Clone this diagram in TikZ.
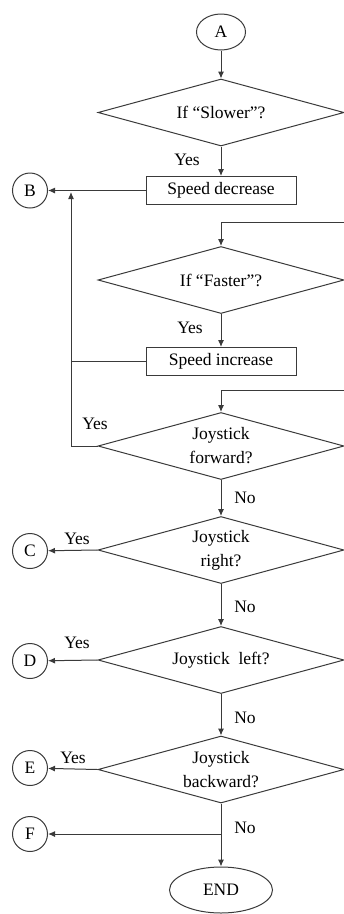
\documentclass[tikz,border=0pt]{standalone}
\usepackage{fontspec}
\setmainfont{Liberation Serif}
\usepackage{xcolor}
\usetikzlibrary{arrows.meta}
\usetikzlibrary{shapes.geometric, positioning}

\definecolor{lineGray}{HTML}{3A3A3A}

\tikzset{
	flow/.style={draw=lineGray, line width=1pt, -{Latex[length=7pt,width=6pt]}},
	link/.style={draw=lineGray, line width=1pt},
	decision/.style={diamond, draw=lineGray, line width=1pt, aspect=3.7, inner sep=0pt, minimum width=246pt, minimum height=67pt, align=center},
	action/.style={rectangle, draw=lineGray, line width=1pt, minimum width=150pt, minimum height=28pt, inner sep=0pt},
	connector/.style={circle, draw=lineGray, line width=1pt, minimum size=35pt, inner sep=0pt},
	terminal/.style={ellipse, draw=lineGray, line width=1pt, inner sep=0pt},
	answer/.style={inner sep=0pt}
}

\begin{document}
\begin{tikzpicture}[x=1pt, y=-1pt, font=\fontsize{17.5}{24}\selectfont]
		\useasboundingbox (0,0) rectangle (344,914);
		\node[terminal, minimum width=49pt, minimum height=36pt] (A) at (221,32) {A};
		\node[decision] (slower) at (221,112.5) {If “Slower”?};
		\node[action] (dec) at (221,190.5) {Speed decrease};
		\node[connector] (B) at (30,190.5) {B};
		\node[decision] (faster) at (221,280) {If “Faster”?};
		\node[action] (inc) at (221,361.5) {Speed increase};
		\node[decision] (fwd) at (221,446) {Joystick\\forward?};
		\node[decision] (right) at (221,550) {Joystick\\right?};
		\node[connector] (C) at (30,551) {C};
		\node[decision] (left) at (221,660) {Joystick~~left?};
		\node[connector] (D) at (30,661) {D};
		\node[decision] (back) at (221,769.5) {Joystick\\backward?};
		\node[connector] (E) at (30,768) {E};
		\node[connector] (F) at (30,834) {F};
		\node[terminal, minimum width=103pt, minimum height=46pt] (end) at (221,890) {END};

		\coordinate (r1) at (344,222);
		\coordinate (r2) at (344,390);
		\coordinate (bj) at (71,192);
		\coordinate (fj) at (221,834);

		\draw[flow] (A) -- (slower);
		\draw[flow] (slower) -- (dec);
		\draw[flow] (dec) -- (B);
		\draw[flow] (r1) -| (faster.north);
		\draw[flow] (faster) -- (inc);
		\draw[link] (inc.west) -- (inc.west -| bj);
		\draw[flow] (r2) -| (fwd.north);
		\draw[flow] (fwd.west) -| (bj);
		\draw[flow] (fwd) -- (right);
		\draw[flow] (right.west) -- (C);
		\draw[flow] (right) -- (left);
		\draw[flow] (left.west) -- (D);
		\draw[flow] (left) -- (back);
		\draw[flow] (back.west) -- (E);
		\draw[flow] (back) -- (end);
		\draw[flow] (fj) -- (F);

		\node[answer] (y1) at (187,160) {Yes};
		\node[answer] (y2) at (190,328) {Yes};
		\node[answer] (y3) at (95,424) {Yes};
		\node[answer] (n1) at (245,498) {No};
		\node[answer] (y4) at (77,539) {Yes};
		\node[answer] (n2) at (245,607) {No};
		\node[answer] (y5) at (77,643) {Yes};
		\node[answer] (n3) at (245,718) {No};
		\node[answer] (y6) at (73,758) {Yes};
		\node[answer] (n4) at (245,828) {No};
		\end{tikzpicture}
\end{document}
